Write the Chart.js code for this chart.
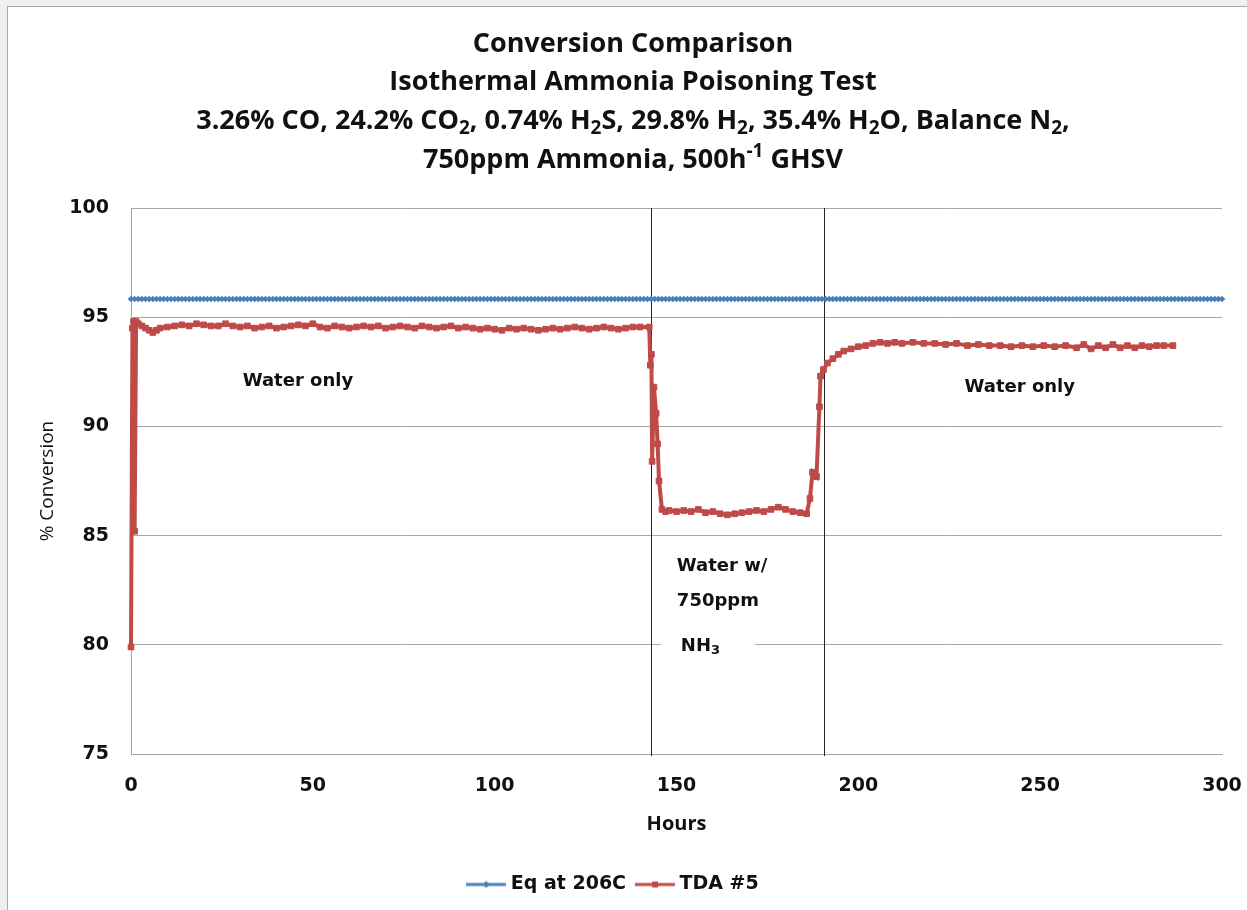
<!doctype html>
<html>
<head>
<title>Conversion Comparison</title>
<script src="https://cdn.jsdelivr.net/npm/chart.js@4.4.0/dist/chart.umd.min.js"></script>
<style>
	body { margin: 0; background: #efefef; }
	#holder { position: absolute; left: 7px; top: 6px; width: 1239px; height: 903px; background: #fff;
		border-left: 1px solid #a8a8a8; border-top: 1px solid #a8a8a8; }
</style>
</head>
<body>
<div id="holder"><canvas id="chart-area" width="1239" height="903"></canvas></div>
<script>
	// TDA #5 conversion
	var tdaHours = [0, 0.4, 0.7, 1.0, 1.4, 2, 3, 4, 5, 6, 7, 8, 10, 12, 14, 16, 18, 20, 22, 24, 26, 28, 30,
		32, 34, 36, 38, 40, 42, 44, 46, 48, 50, 52, 54, 56, 58, 60, 62, 64, 66, 68, 70, 72, 74, 76, 78, 80,
		82, 84, 86, 88, 90, 92, 94, 96, 98, 100, 102, 104, 106, 108, 110, 112, 114, 116, 118, 120, 122, 124,
		126, 128, 130, 132, 134, 136, 138, 140, 142.5, 142.8, 143.1, 143.3, 143.8, 144.4, 144.8, 145.2, 146,
		147, 148, 150, 152, 154, 156, 158, 160, 162, 164, 166, 168, 170, 172, 174, 176, 178, 180, 182, 184,
		185.8, 186.7, 187.4, 188.5, 189.3, 189.6, 190.4, 191.5, 193, 194.5, 196, 198, 200, 202, 204, 206, 208,
		210, 212, 215, 218, 221, 224, 227, 230, 233, 236, 239, 242, 245, 248, 251, 254, 257, 260, 262, 264,
		266, 268, 270, 272, 274, 276, 278, 280, 282, 284, 286.5];
	var tdaConversion = [79.9, 94.5, 94.8, 85.2, 94.8, 94.7, 94.6, 94.5, 94.4, 94.3, 94.4, 94.5, 94.55, 94.6,
		94.65, 94.6, 94.7, 94.65, 94.6, 94.6, 94.7, 94.6, 94.55, 94.6, 94.5, 94.55, 94.6, 94.5, 94.55, 94.6,
		94.65, 94.6, 94.7, 94.55, 94.5, 94.6, 94.55, 94.5, 94.55, 94.6, 94.55, 94.6, 94.5, 94.55, 94.6, 94.55,
		94.5, 94.6, 94.55, 94.5, 94.55, 94.6, 94.5, 94.55, 94.5, 94.45, 94.5, 94.45, 94.4, 94.5, 94.45, 94.5,
		94.45, 94.4, 94.45, 94.5, 94.45, 94.5, 94.55, 94.5, 94.45, 94.5, 94.55, 94.5, 94.45, 94.5, 94.55,
		94.55, 94.55, 92.8, 93.3, 88.4, 91.8, 90.6, 89.2, 87.5, 86.2, 86.1, 86.15, 86.1, 86.15, 86.1, 86.2,
		86.05, 86.1, 86.0, 85.95, 86.0, 86.05, 86.1, 86.15, 86.1, 86.2, 86.3, 86.2, 86.1, 86.05, 86.0, 86.7,
		87.9, 87.7, 90.9, 92.3, 92.6, 92.9, 93.1, 93.3, 93.45, 93.55, 93.65, 93.7, 93.8, 93.85, 93.8, 93.85,
		93.8, 93.85, 93.8, 93.8, 93.75, 93.8, 93.7, 93.75, 93.7, 93.7, 93.65, 93.7, 93.65, 93.7, 93.65, 93.7,
		93.6, 93.75, 93.55, 93.7, 93.6, 93.75, 93.6, 93.7, 93.6, 93.7, 93.65, 93.7, 93.7, 93.7];
	// equilibrium conversion at 206C (flat line)
	var eqConversion = 95.83;
	var eqHours = [];
	for (var h = 0; h <= 300; h += 1) eqHours.push(h);

	var xTicks = [0, 50, 100, 150, 200, 250, 300];
	var yTicks = [75, 80, 85, 90, 95, 100];
	var switchHours = [143, 190.5];

	var titleLines = [
		'Conversion Comparison',
		'Isothermal Ammonia Poisoning Test',
		'3.26% CO, 24.2% CO_2, 0.74% H_2S, 29.8% H_2, 35.4% H_2O, Balance N_2,',
		'750ppm Ammonia, 500h^{-1} GHSV'
	];
	var notes = [
		{ text: 'Water only', x: 45.9, y: 92.08, align: 'center' },
		{ text: 'Water only', x: 244.4, y: 91.8, align: 'center' },
		{ text: 'Water w/', x: 150.1, y: 83.6, align: 'left' },
		{ text: '750ppm', x: 150.1, y: 82.0, align: 'left' },
		{ text: 'NH_3', x: 151.2, y: 79.95, align: 'left', mask: [145.7, 171.6] }
	];

	var blue = '#4a7ebb';
	var red = '#be4b48';
	var titleFont = "'Open Sans', sans-serif";
	var bodyFont = "'DejaVu Sans', sans-serif";

	function richText(ctx, text, x, y, size, family, weight, align) {
		var parts = [], re = /([_^])(\{[^}]*\}|.)/g, last = 0, m;
		while ((m = re.exec(text))) {
			if (m.index > last) parts.push({ t: text.slice(last, m.index), k: '' });
			parts.push({ t: m[2].replace(/[{}]/g, ''), k: m[1] });
			last = re.lastIndex;
		}
		if (last < text.length) parts.push({ t: text.slice(last), k: '' });
		var big = weight + ' ' + size + 'px ' + family;
		var small = weight + ' ' + Math.round(size * 0.7) + 'px ' + family;
		var w = 0;
		parts.forEach(function(p) {
			ctx.font = p.k ? small : big;
			p.w = ctx.measureText(p.t).width;
			w += p.w;
		});
		var cx = align === 'center' ? x - w / 2 : x;
		ctx.textAlign = 'left';
		ctx.textBaseline = 'middle';
		parts.forEach(function(p) {
			ctx.font = p.k ? small : big;
			var dy = p.k === '_' ? size * 0.28 : (p.k === '^' ? -size * 0.3 : 0);
			ctx.fillText(p.t, cx, y + dy);
			cx += p.w;
		});
		return w;
	}

	function legendMark(color, style) {
		var c = document.createElement('canvas');
		c.width = 40; c.height = 12;
		var g = c.getContext('2d');
		g.strokeStyle = color; g.fillStyle = color; g.lineWidth = 3;
		g.beginPath(); g.moveTo(0, 6); g.lineTo(40, 6); g.stroke();
		g.beginPath();
		if (style === 'diamond') { g.moveTo(20, 2.5); g.lineTo(23.5, 6); g.lineTo(20, 9.5); g.lineTo(16.5, 6); }
		else { g.rect(17, 3, 6, 6); }
		g.fill();
		return c;
	}

	var extras = {
		id: 'extras',
		beforeDatasetsDraw: function(chart) {
			var ctx = chart.ctx, xs = chart.scales.x, a = chart.chartArea;
			ctx.save();
			ctx.strokeStyle = '#222';
			ctx.lineWidth = 1;
			switchHours.forEach(function(h) {
				var px = Math.round(xs.getPixelForValue(h)) + 0.5;
				ctx.beginPath(); ctx.moveTo(px, a.top); ctx.lineTo(px, a.bottom + 2); ctx.stroke();
			});
			ctx.restore();
		},
		afterDatasetsDraw: function(chart) {
			var ctx = chart.ctx, xs = chart.scales.x, ys = chart.scales.y;
			ctx.save();
			notes.forEach(function(n) {
				var px = xs.getPixelForValue(n.x), py = ys.getPixelForValue(n.y);
				if (n.mask) {
					ctx.fillStyle = '#fff';
					var l = xs.getPixelForValue(n.mask[0]), r = xs.getPixelForValue(n.mask[1]);
					ctx.fillRect(l, py - 12, r - l, 24);
				}
				ctx.fillStyle = '#111';
				richText(ctx, n.text, px, py, 18, bodyFont, 'bold', n.align);
			});
			ctx.restore();
		},
		afterDraw: function(chart) {
			var ctx = chart.ctx;
			ctx.save();
			ctx.fillStyle = '#111';
			titleLines.forEach(function(t, i) {
				richText(ctx, t, 625, 37 + i * 38.7, 27, titleFont, 'bold', 'center');
			});
			ctx.restore();
		}
	};

	var config = {
		type: 'line',
		data: {
			datasets: [{
				label: 'Eq at 206C',
				data: eqHours.map(function(h) { return { x: h, y: eqConversion }; }),
				borderColor: blue,
				backgroundColor: blue,
				borderWidth: 2,
				pointStyle: 'rectRot',
				pointRadius: 3.3,
				pointBorderWidth: 0,
				clip: false
			}, {
				label: 'TDA #5',
				data: tdaHours.map(function(h, i) { return { x: h, y: tdaConversion[i] }; }),
				borderColor: red,
				backgroundColor: red,
				borderWidth: 4,
				pointStyle: 'rect',
				pointRadius: 4,
				pointBorderWidth: 1,
				clip: false
			}]
		},
		options: {
			responsive: false,
			animation: false,
			layout: { padding: { top: 201, right: 25, left: 0, bottom: 6 } },
			plugins: {
				tooltip: { enabled: false },
				legend: {
					position: 'bottom',
					labels: {
						usePointStyle: true,
						pointStyleWidth: 30,
						color: '#111',
						font: { family: bodyFont, size: 19, weight: 'bold' },
						padding: 14,
						generateLabels: function(chart) {
							return chart.data.datasets.map(function(ds, i) {
								return {
									text: ds.label, datasetIndex: i, fontColor: '#111',
									pointStyle: legendMark(ds.borderColor, i === 0 ? 'diamond' : 'square'),
									lineWidth: 0, strokeStyle: ds.borderColor, fillStyle: ds.borderColor
								};
							});
						}
					}
				}
			},
			scales: {
				x: {
					type: 'linear', min: 0, max: 300,
					afterFit: function(s) { s.height = 107; s.paddingRight = 0; s.paddingLeft = 0; },
					afterBuildTicks: function(s) { s.ticks = xTicks.map(function(v) { return { value: v }; }); },
					grid: { display: false, drawTicks: false },
					border: { display: true, color: '#a6a6a6', width: 1 },
					ticks: { padding: 21, color: '#111', maxRotation: 0, font: { family: bodyFont, size: 19, weight: 'bold' } },
					title: { display: true, text: 'Hours', color: '#111', padding: { top: 0, bottom: 25 },
						font: { family: titleFont, size: 20, weight: 'bold' } }
				},
				y: {
					min: 75, max: 100,
					afterFit: function(s) { s.width = 123; s.paddingTop = 0; s.paddingBottom = 0; },
					afterBuildTicks: function(s) { s.ticks = yTicks.map(function(v) { return { value: v }; }); },
					grid: { color: '#a6a6a6', drawTicks: false },
					border: { display: true, color: '#a6a6a6', width: 1 },
					ticks: { padding: 22, color: '#111', font: { family: bodyFont, size: 19, weight: 'bold' } },
					title: { display: true, text: '% Conversion', color: '#111', padding: { top: 28, bottom: 0 },
						font: { family: titleFont, size: 19, weight: 'normal' } }
				}
			}
		},
		plugins: [extras]
	};

	window.onload = function() {
		var ctx = document.getElementById('chart-area').getContext('2d');
		window.myChart = new Chart(ctx, config);
	};
</script>
</body>
</html>
